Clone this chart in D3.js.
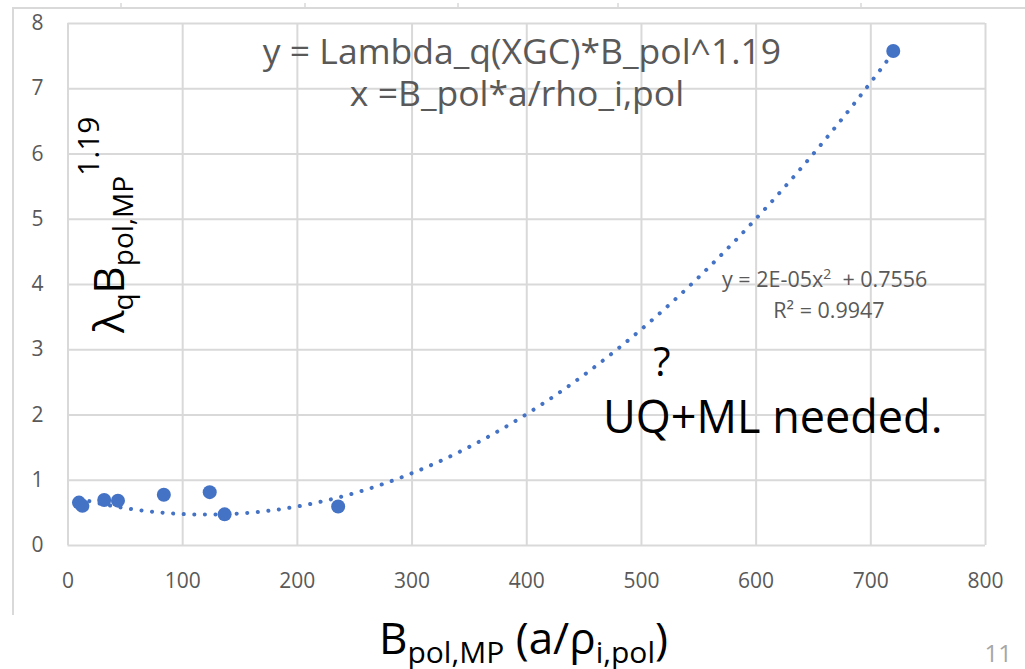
<!DOCTYPE html>
<html>
<head>
<meta charset="utf-8">
<script src="https://cdn.jsdelivr.net/npm/d3@7"></script>
<style>
  body { margin: 0; background: #fff; }
  svg { display: block; font-family: "Open Sans", Lato, sans-serif; }
</style>
</head>
<body>
<div id="chart"></div>
<script>
// data
const xVals = [10, 13, 32, 44, 84, 124, 137, 236, 720];
const yVals = [0.65, 0.6, 0.69, 0.68, 0.77, 0.81, 0.47, 0.59, 7.57];
const xTicks = [0, 100, 200, 300, 400, 500, 600, 700, 800];
const yTicks = [0, 1, 2, 3, 4, 5, 6, 7, 8];
// polynomial trendline, c0 + c1*x + c2*x^2 (label shows 2E-05 and 0.7556)
const trendCoef = [0.7556, -0.00478, 1.974e-5];

const W = 1025, H = 669;
const plotL = 67.5, plotR = 985, plotT = 23, plotB = 545;

const svg = d3.select("#chart").append("svg")
  .attr("width", W).attr("height", H);

// outer slide frame
svg.append("path")
  .attr("d", "M13,615V8H1025")
  .attr("fill", "none").attr("stroke", "#d9d9d9").attr("stroke-width", 2);
[121, 305, 458, 618, 861].forEach(t => {
  svg.append("line").attr("x1", t).attr("x2", t).attr("y1", 3).attr("y2", 8)
    .attr("stroke", "#d9d9d9").attr("stroke-width", 1.5);
});

const x = d3.scaleLinear().domain([0, 800]).range([plotL, plotR]);
const y = d3.scaleLinear().domain([0, 8]).range([plotB, plotT]);

// gridlines + tick labels
const gx = svg.append("g")
  .attr("transform", "translate(0," + plotB + ")")
  .call(d3.axisBottom(x).tickValues(xTicks).tickSize(-(plotB - plotT)).tickPadding(28));
const gy = svg.append("g")
  .attr("transform", "translate(" + plotL + ",0)")
  .call(d3.axisLeft(y).tickValues(yTicks).tickSize(-(plotR - plotL)).tickPadding(22));

[gx, gy].forEach(g => {
  g.select(".domain").remove();
  g.selectAll("line").attr("stroke", "#d9d9d9").attr("stroke-width", 2);
  g.selectAll("text").attr("fill", "#595959").style("font-size", "21px")
    .style("font-family", "'Open Sans', sans-serif");
});
gy.selectAll("text").attr("text-anchor", "middle").attr("x", -30);

// dotted trendline over the data range
const xs = d3.range(d3.min(xVals), d3.max(xVals) + 0.5, 2);
const line = d3.line()
  .x(d => x(d))
  .y(d => y(trendCoef[0] + trendCoef[1] * d + trendCoef[2] * d * d));

svg.append("path")
  .datum(xs)
  .attr("d", line)
  .attr("fill", "none")
  .attr("stroke", "#4472c4")
  .attr("stroke-width", 4)
  .attr("stroke-linecap", "round")
  .attr("stroke-dasharray", "0.1 10.5");

// points
svg.selectAll("circle.pt")
  .data(xVals)
  .enter()
  .append("circle")
  .attr("class", "pt")
  .attr("cx", d => x(d))
  .attr("cy", (d, i) => y(yVals[i]))
  .attr("r", 7)
  .attr("fill", "#4472c4");

// annotations
svg.append("text").attr("x", 522).attr("y", 64).attr("text-anchor", "middle")
  .attr("fill", "#595959").style("font-size", "35.5px")
  .text("y = Lambda_q(XGC)*B_pol^1.19");
svg.append("text").attr("x", 517).attr("y", 106).attr("text-anchor", "middle")
  .attr("fill", "#595959").style("font-size", "35.5px")
  .text("x =B_pol*a/rho_i,pol");

const eq = svg.append("text").attr("x", 722).attr("y", 287)
  .attr("fill", "#595959").style("font-size", "21.5px");
eq.append("tspan").text("y = 2E-05x");
eq.append("tspan").attr("dy", -8).style("font-size", "14px").text("2");
eq.append("tspan").attr("dy", 8).text("\u00a0 + 0.7556");
svg.append("text").attr("x", 829).attr("y", 318).attr("text-anchor", "middle")
  .attr("fill", "#595959").style("font-size", "21.5px").text("R\u00b2 = 0.9947");

svg.append("text").attr("x", 662).attr("y", 376).attr("text-anchor", "middle")
  .attr("fill", "#000").style("font-size", "40px").text("?");
svg.append("text").attr("x", 603).attr("y", 433)
  .attr("fill", "#000").style("font-size", "45px").text("UQ+ML needed.");

// y axis title
const yt = svg.append("text")
  .attr("transform", "translate(124,333) rotate(-90)")
  .attr("fill", "#000").style("font-size", "42px");
yt.append("tspan").text("\u03bb");
yt.append("tspan").attr("dy", 9).style("font-size", "28px").text("q");
yt.append("tspan").attr("dy", -9).text("B");
yt.append("tspan").attr("dy", 9).style("font-size", "28px").text("pol,MP");
yt.append("tspan").attr("dy", -34).style("font-size", "30px").text("1.19");

// x axis title
const xt = svg.append("text").attr("x", 379).attr("y", 654)
  .attr("fill", "#000").style("font-size", "44px");
xt.append("tspan").text("B");
xt.append("tspan").attr("dy", 9).style("font-size", "30px").text("pol,MP");
xt.append("tspan").attr("dy", -9).text(" (a/\u03c1");
xt.append("tspan").attr("dy", 9).style("font-size", "30px").text("i,pol");
xt.append("tspan").attr("dy", -9).text(")");

svg.append("text").attr("x", 1012).attr("y", 662).attr("text-anchor", "end")
  .attr("fill", "#a6a6a6").style("font-size", "24px").text("11");
</script>
</body>
</html>
